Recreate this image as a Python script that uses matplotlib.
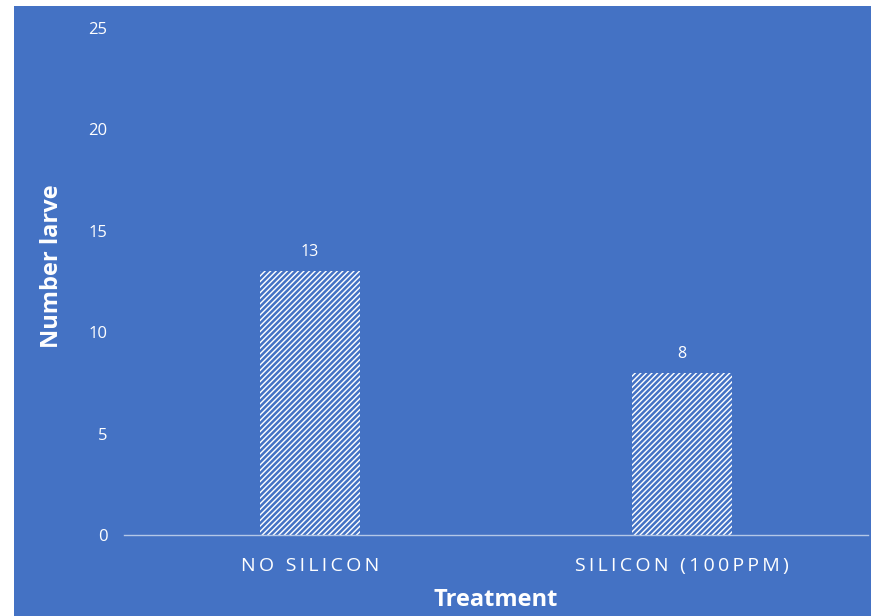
import matplotlib.pyplot as plt
from matplotlib.patches import Rectangle

# Data
categories = ['NO SILICON', 'SILICON (100PPM)']
larvae = [13, 8]
y_ticks = [0, 5, 10, 15, 20, 25]

blue = '#4472C4'
plt.rcParams['hatch.color'] = blue
plt.rcParams['hatch.linewidth'] = 1.8
plt.rcParams['font.family'] = ['Open Sans', 'DejaVu Sans']

fig = plt.figure(figsize=(8.71, 6.16), dpi=100, facecolor='white')
# blue chart area with small white margin top/left
fig.patches.append(Rectangle((14 / 871, 0), 1, 1 - 6 / 616, transform=fig.transFigure,
                             facecolor=blue, edgecolor='none', zorder=-10))

ax = fig.add_axes([124 / 871, 1 - 535 / 616, 744 / 871, (535 - 28) / 616])
ax.set_facecolor('none')
ax.set_zorder(5)

x = range(len(categories))
bars = ax.bar(x, larvae, width=0.27, color='white', hatch='//////', edgecolor=blue,
              linewidth=0, zorder=2)

# value labels
for xi, v in zip(x, larvae):
    ax.text(xi, v + 0.55, str(v), ha='center', va='bottom', color='white', fontsize=11.5)

ax.set_xlim(-0.5, 1.5)
ax.set_ylim(0, 25)
ax.set_yticks(y_ticks)
ax.set_xticks(list(x))
spaced = ['\u2009'.join(c) for c in categories]
ax.set_xticklabels(spaced, fontsize=14)
ax.tick_params(axis='x', length=0, pad=16, colors='white')
ax.tick_params(axis='y', length=0, pad=12, colors='white', labelsize=12)

for s in ['top', 'right', 'left']:
    ax.spines[s].set_visible(False)
ax.spines['bottom'].set_color('#B4C7E7')
ax.spines['bottom'].set_linewidth(1)

ax.set_xlabel('Treatment', fontsize=17, fontweight='bold', color='white')
ax.xaxis.set_label_coords(0.5, -0.104)
ax.set_ylabel('Number larve', fontsize=17, fontweight='bold', color='white')
ax.yaxis.set_label_coords(-0.08, 0.53)

plt.savefig('out.png', dpi=100, facecolor='white')
